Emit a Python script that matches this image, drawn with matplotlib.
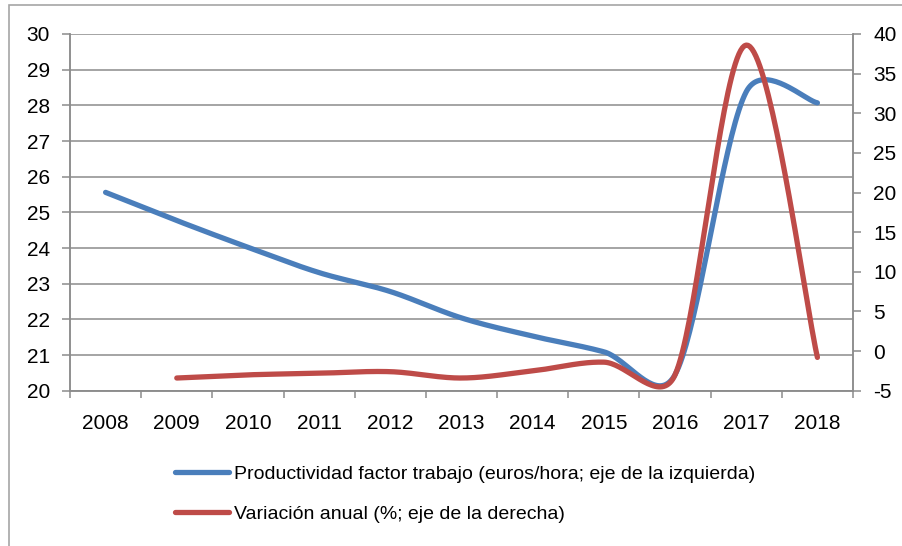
import numpy as np
import matplotlib
matplotlib.use("Agg")
import matplotlib.pyplot as plt
from matplotlib import font_manager
from matplotlib.patches import Rectangle

# Data
years = ["2008", "2009", "2010", "2011", "2012", "2013", "2014", "2015", "2016", "2017", "2018"]
productividad = [25.56, 24.77, 24.02, 23.31, 22.78, 22.04, 21.53, 21.09, 20.45, 28.38, 28.07]
variacion = [None, -3.4, -3.0, -2.8, -2.6, -3.4, -2.5, -1.4, -3.0, 38.6, -0.8]

label_prod = "Productividad factor trabajo (euros/hora; eje de la izquierda)"
label_var = "Variación anual (%; eje de la derecha)"

blue = "#4a7ebb"
red = "#be4b48"
grid_gray = "#8c8c8c"

installed = {f.name for f in font_manager.fontManager.ttflist}
fam = "Liberation Sans Narrow" if "Liberation Sans Narrow" in installed else "Liberation Sans"
plt.rcParams["font.family"] = [fam, "DejaVu Sans"]
fs = 15
fs_leg = 14


def smooth(xs, ys, sx, sy, n=40):
    # Excel-style smoothed line: cubic Bezier, Catmull-Rom handles (1/6),
    # each handle limited to half of its segment length (in screen units)
    p = np.column_stack([np.asarray(xs, float) * sx, np.asarray(ys, float) * sy])
    out = []
    for i in range(len(p) - 1):
        p0 = p[i - 1] if i > 0 else p[i]
        p1, p2 = p[i], p[i + 1]
        p3 = p[i + 2] if i + 2 < len(p) else p[i + 1]
        half = np.linalg.norm(p2 - p1) / 2
        h1 = (p2 - p0) / 6
        h2 = (p3 - p1) / 6
        if np.linalg.norm(h1) > half:
            h1 = h1 * half / np.linalg.norm(h1)
        if np.linalg.norm(h2) > half:
            h2 = h2 * half / np.linalg.norm(h2)
        c1, c2 = p1 + h1, p2 - h2
        t = np.linspace(0, 1, n)[:, None]
        seg = ((1 - t) ** 3) * p1 + 3 * ((1 - t) ** 2) * t * c1 + 3 * (1 - t) * t ** 2 * c2 + t ** 3 * p2
        out.append(seg if i == 0 else seg[1:])
    out = np.vstack(out)
    return out[:, 0] / sx, out[:, 1] / sy


fig = plt.figure(figsize=(9.02, 5.46), dpi=100)
ax = fig.add_axes([70 / 902, 1 - 390.7 / 546, (853 - 70) / 902, (390.7 - 34) / 546])
ax2 = ax.twinx()

x = np.arange(len(years))
px_x = 783 / len(years)
bx, by = smooth(x, productividad, px_x, 356.7 / 10)
l1, = ax.plot(bx, by, color=blue, lw=3.8, solid_capstyle="round", label=label_prod)

vx = [i for i, v in enumerate(variacion) if v is not None]
vy = [v for v in variacion if v is not None]
rx, ry = smooth(vx, vy, px_x, 356.7 / 45)
l2, = ax2.plot(rx, ry, color=red, lw=3.8, solid_capstyle="round", label=label_var)

ax.set_xlim(-0.5, len(years) - 0.5)
ax.set_ylim(20, 30)
ax.set_yticks(range(20, 31))
ax2.set_ylim(-5, 40)
ax2.set_yticks(range(-5, 41, 5))
ax2.set_yticklabels([str(v) for v in range(-5, 41, 5)])

ax.set_xticks(x)
ax.set_xticklabels(years)
ax.set_xticks(np.arange(-0.5, len(years), 1), minor=True)
ax.tick_params(axis="x", which="major", length=0, pad=17, labelsize=fs)
ax.tick_params(axis="x", which="minor", length=5, width=1.1, color=grid_gray, direction="out")
ax.tick_params(axis="y", length=5.5, width=1.1, color=grid_gray, pad=9, labelsize=fs)
ax2.tick_params(axis="y", length=5.5, width=1.1, color=grid_gray, pad=9, labelsize=fs)

ax.yaxis.grid(True, color=grid_gray, lw=1.1)
ax.set_axisbelow(True)
for a in (ax, ax2):
    for s in ("left", "right", "bottom"):
        a.spines[s].set_color(grid_gray)
        a.spines[s].set_linewidth(1.1)
    a.spines["top"].set_visible(False)

fig.legend([l1, l2], [label_prod, label_var], loc="upper left",
           bbox_to_anchor=(175 / 902, 1 - 465 / 546), frameon=False,
           fontsize=fs_leg, handlelength=2.8, handletextpad=0.25, labelspacing=1.15,
           borderpad=0, borderaxespad=0)

fig.patches.append(Rectangle((9 / 902, -0.05), 1.0, 1 - 5 / 546 + 0.05,
                             transform=fig.transFigure, fill=False,
                             edgecolor="#a6a6a6", lw=1.2))

fig.savefig("out.png", dpi=100)
